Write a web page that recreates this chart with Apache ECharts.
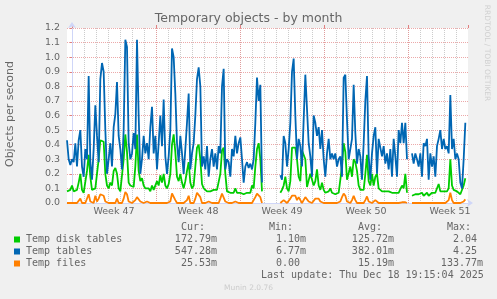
<!DOCTYPE html>
<html>
<head>
<meta charset="utf-8">
<script src="https://cdn.jsdelivr.net/npm/echarts@6/dist/echarts.min.js"></script>
<style>
html,body{margin:0;padding:0;background:#F0F0F0;}
#c{width:497px;height:299px;}
</style>
</head>
<body>
<div id="c"></div>
<script>
// ---- data ----
const weeks = ['Week 47', 'Week 48', 'Week 49', 'Week 50', 'Week 51'];
// samples every 200 minutes, first sample 600 minutes before Monday 00:00 of week 47
const startMin = -600;
const stepMin = 200;
const tempTables = [
0.43,0.30,0.26,0.30,0.28,0.41,0.25,0.43,0.50,0.25,0.18,0.37,0.30,0.87,0.28,0.16,0.37,0.67,0.46,0.28,
0.85,0.96,0.90,0.50,0.20,0.30,0.41,0.25,0.52,0.61,0.83,0.46,0.37,0.23,0.50,1.12,1.07,0.41,0.30,0.34,
0.48,0.37,1.12,0.60,0.20,0.30,0.46,0.34,0.41,0.30,0.52,0.66,0.34,0.46,0.23,0.41,0.60,0.39,0.71,0.32,
0.20,0.32,0.50,1.06,1.00,0.75,0.41,0.28,0.46,0.34,0.20,0.37,0.55,0.75,0.23,0.34,0.41,0.60,0.85,0.93,
0.80,0.25,0.32,0.23,0.39,0.18,0.30,0.37,0.25,0.34,0.23,0.39,0.34,0.80,0.92,0.23,0.30,0.28,0.18,0.37,
0.32,0.46,0.34,0.41,0.45,0.30,0.14,0.25,0.28,0.24,0.27,0.23,0.30,0.55,0.86,0.70,0.81,0.14,
null,null,null,null,null,null,null,null,null,null,
0.19,0.16,0.46,0.41,0.25,0.37,0.55,0.90,0.99,0.60,0.30,0.44,0.39,0.25,0.57,0.88,0.87,0.41,0.32,0.18,
0.60,0.55,0.46,0.52,0.37,0.50,0.30,0.18,0.34,0.44,0.30,0.34,0.30,0.34,0.25,0.30,0.32,0.18,0.86,0.88,
0.57,0.30,0.37,0.44,0.81,0.48,0.27,0.37,0.32,0.16,0.41,0.70,0.87,0.32,0.16,0.34,0.46,0.52,0.20,0.44,
0.43,0.32,0.39,0.27,0.34,0.23,0.37,0.18,0.44,0.32,0.18,0.50,0.41,0.55,0.41,0.55,0.30,
null,null,
0.34,0.27,0.34,0.30,0.25,0.34,0.18,0.41,0.39,0.44,0.16,0.34,0.25,0.32,0.18,0.39,0.44,0.50,0.37,0.44,
0.37,0.39,0.34,0.74,0.37,0.44,0.30,0.34,0.30,0.14,0.10,0.30,0.55
];
const diskTables = [
0.08,0.07,0.09,0.12,0.08,0.07,0.09,0.14,0.20,0.09,0.07,0.08,0.22,0.33,0.18,0.09,0.08,0.10,0.09,0.30,
0.43,0.43,0.42,0.20,0.12,0.10,0.14,0.12,0.22,0.24,0.20,0.10,0.08,0.09,0.30,0.47,0.35,0.14,0.12,0.13,
0.11,0.25,0.47,0.22,0.15,0.17,0.12,0.10,0.09,0.10,0.08,0.12,0.09,0.10,0.15,0.12,0.19,0.14,0.20,0.12,
0.10,0.13,0.20,0.40,0.47,0.35,0.18,0.15,0.20,0.14,0.10,0.15,0.22,0.28,0.14,0.10,0.12,0.25,0.38,0.40,
0.30,0.13,0.10,0.09,0.08,0.09,0.08,0.08,0.09,0.08,0.09,0.10,0.20,0.36,0.38,0.20,0.08,0.07,0.07,0.08,
0.07,0.10,0.07,0.07,0.07,0.07,0.06,0.07,0.07,0.06,0.07,0.12,0.10,0.25,0.37,0.41,0.30,0.08,
null,null,null,null,null,null,null,null,null,null,
0.07,0.09,0.12,0.18,0.10,0.08,0.15,0.38,0.38,0.38,0.30,0.18,0.15,0.36,0.36,0.30,0.11,0.10,0.20,0.20,
0.12,0.15,0.23,0.12,0.09,0.14,0.09,0.07,0.07,0.08,0.10,0.07,0.07,0.06,0.07,0.07,0.08,0.25,0.41,0.35,
0.16,0.15,0.25,0.18,0.30,0.28,0.22,0.12,0.09,0.08,0.09,0.20,0.33,0.15,0.12,0.20,0.12,0.18,0.20,0.10,
0.09,0.08,0.09,0.08,0.07,0.08,0.07,0.07,0.08,0.07,0.08,0.07,0.08,0.12,0.10,0.20,0.07,
null,null,
0.05,0.04,0.06,0.05,0.06,0.05,0.07,0.05,0.06,0.07,0.05,0.06,0.07,0.06,0.07,0.08,0.13,0.08,0.07,0.08,
0.07,0.08,0.10,0.30,0.12,0.09,0.10,0.08,0.07,0.06,0.05,0.12,0.17
];
const tempFiles = [
0,0,0,0,0,0,0,0,0.03,0,0,0,0,0.06,0.01,0,0,0.05,0.01,0.03,
0.06,0.06,0.05,0.01,0,0,0,0,0,0,0.03,0,0,0,0.03,0.075,0.06,0.01,0,0,
0,0.02,0.04,0.04,0.01,0,0,0,0.01,0,0,0,0,0,0,0,0,0,0,0,
0,0,0.01,0.065,0.065,0.02,0,0,0,0,0,0,0.02,0.05,0,0,0,0.03,0.07,0.07,
0.04,0,0,0,0,0.01,0.02,0,0,0,0,0,0.03,0.065,0.06,0.01,0,0,0,0,
0,0.01,0,0,0,0,0,0,0,0,0,0,0,0.04,0.065,0.065,0.04,0,
null,null,null,null,null,null,null,null,null,null,
0,0.01,0.02,0.01,0,0,0.03,0.05,0.04,0.05,0.02,0.04,0.02,0,0.01,0.04,0.04,0.01,0,0,
0,0.03,0.02,0.03,0.01,0,0,0,0,0,0,0,0,0,0,0,0.01,0.04,0.065,0.05,
0.01,0,0,0.02,0.05,0.02,0,0,0,0,0,0.02,0.045,0.01,0,0,0,0.02,0.01,0,
0,0,0,0,0,0,0,0,0,0,0,0,0,0.005,0.005,0.005,0,
null,null,
0,0,0,0,0,0,0,0,0,0,0,0,0,0,0,0,0,0,0,0,
0,0,0.02,0.07,0.02,0,0,0,0,0,0,0.01,0.025
];
const legendNames = ['Temp disk tables', 'Temp tables', 'Temp files'];
const curVals = ['172.79m', '547.28m', '25.53m'];
const minVals = ['1.10m', '6.77m', '0.00'];
const avgVals = ['125.72m', '382.01m', '15.19m'];
const maxVals = ['2.04', '4.25', '133.77m'];
const colors = ['#00CC00', '#0066B3', '#FF8000'];
const lastUpdate = 'Last update: Thu Dec 18 19:15:04 2025';

// ---- chart ----
const toPairs = arr => arr.map((v, i) => [startMin + i * stepMin, v]);
const AXIS = '#CFD6F8';
const MGRID = 'rgba(230,140,140,0.75)';
const GRID = 'rgba(170,170,170,0.6)';
const FONT = '#666666';

const chart = echarts.init(document.getElementById('c'), null, {renderer: 'canvas'});

const graphic = [];
graphic.push({type: 'text', left: 'center', top: 12.5, style: {text: 'Temporary objects - by month', font: '12.5px "DejaVu Sans"', fill: FONT}});
graphic.push({type: 'text', x: 10.5, y: 114, rotation: Math.PI / 2, style: {text: 'Objects per second', font: '11px "DejaVu Sans"', fill: FONT, align: 'center', verticalAlign: 'middle'}});
graphic.push({type: 'text', x: 487, y: 53, rotation: -Math.PI / 2, style: {text: 'RRDTOOL / TOBI OETIKER', font: '7.5px "DejaVu Sans"', fill: '#D0D0D0', align: 'center', verticalAlign: 'middle'}});
const mono = '10px "DejaVu Sans Mono"';
const headers = [['Cur:', 181], ['Min:', 269], ['Avg:', 358], ['Max:', 447]];
headers.forEach(h => graphic.push({type: 'text', x: h[1], y: 227, style: {text: h[0], font: mono, fill: FONT, align: 'left', verticalAlign: 'middle'}}));
const colEnds = [217, 306, 394, 483];
const cols = [curVals, minVals, avgVals, maxVals];
legendNames.forEach((name, r) => {
  const y = 239 + r * 12;
  graphic.push({type: 'rect', shape: {x: 14, y: y - 2.5, width: 6, height: 6}, style: {fill: colors[r]}});
  graphic.push({type: 'text', x: 26, y: y, style: {text: name, font: mono, fill: FONT, align: 'left', verticalAlign: 'middle'}});
  cols.forEach((col, c) => {
    const s = col[r];
    const txt = /[a-zA-Z]$/.test(s) ? s : s + ' ';
    graphic.push({type: 'text', x: colEnds[c], y: y, style: {text: txt, font: mono, fill: FONT, align: 'right', verticalAlign: 'middle'}});
  });
});
graphic.push({type: 'text', x: 261, y: 275, style: {text: lastUpdate, font: mono, fill: FONT, align: 'left', verticalAlign: 'middle'}});
graphic.push({type: 'text', left: 'center', top: 284, style: {text: 'Munin 2.0.76', font: '7.5px "DejaVu Sans"', fill: '#CCCCCC'}});

const option = {
  animation: false,
  backgroundColor: '#F0F0F0',
  textStyle: {fontFamily: 'DejaVu Sans'},
  grid: [
    {left: 67, right: 29, top: 28, bottom: 96, show: true, backgroundColor: '#FFFFFF', borderWidth: 0},
    {left: 72, right: 29, top: 28, bottom: 96},
    {left: 72, right: 5, top: 28, bottom: 96}
  ],
  xAxis: [
    {gridIndex: 0, type: 'value', min: -600, max: 47520,
     axisLine: {show: true, lineStyle: {color: AXIS, width: 1}, symbol: ['none', 'arrow'], symbolSize: [6, 6], symbolOffset: [0, 5]},
     axisTick: {show: false}, axisLabel: {show: false}, splitLine: {show: false}, z: 1},
    {gridIndex: 1, type: 'value', min: 0, max: 33, interval: 1,
     axisLine: {show: false}, axisTick: {show: false}, axisLabel: {show: false},
     splitLine: {show: true, showMaxLine: false, lineStyle: {color: GRID, type: [1, 1], width: 1}}},
    {gridIndex: 1, type: 'value', min: 0, max: 33, interval: 7,
     axisLine: {show: false}, axisTick: {show: true, length: 3, lineStyle: {color: '#E08080'}}, axisLabel: {show: false},
     splitLine: {show: true, showMaxLine: false, lineStyle: {color: MGRID, type: [1, 1], width: 1}}},
    {gridIndex: 2, type: 'category', data: weeks, boundaryGap: true,
     axisLine: {show: false}, axisTick: {show: false}, splitLine: {show: false},
     axisLabel: {show: true, color: FONT, fontSize: 9.5, fontFamily: 'DejaVu Sans', margin: 4}}
  ],
  yAxis: [
    {gridIndex: 0, type: 'value', min: 0, max: 1.2, interval: 0.1,
     axisLine: {show: true, lineStyle: {color: AXIS, width: 1}, symbol: ['none', 'arrow'], symbolSize: [6, 6], symbolOffset: [0, 6]},
     axisTick: {show: true, length: 2, lineStyle: {color: '#E08080'}},
     axisLabel: {color: FONT, fontSize: 9.5, fontFamily: 'DejaVu Sans', margin: 7, formatter: v => v.toFixed(1)},
     splitLine: {show: true, lineStyle: {color: MGRID, type: [1, 1], width: 1}}},
    {gridIndex: 1, type: 'value', min: 0, max: 1.2, show: false},
    {gridIndex: 2, type: 'value', min: 0, max: 1.2, show: false}
  ],
  series: [
    {name: legendNames[0], type: 'line', xAxisIndex: 0, yAxisIndex: 0, data: toPairs(diskTables), showSymbol: false, connectNulls: false, lineStyle: {color: colors[0], width: 1.8}, itemStyle: {color: colors[0]}, z: 3},
    {name: legendNames[1], type: 'line', xAxisIndex: 0, yAxisIndex: 0, data: toPairs(tempTables), showSymbol: false, connectNulls: false, lineStyle: {color: colors[1], width: 1.8}, itemStyle: {color: colors[1]}, z: 4},
    {name: legendNames[2], type: 'line', xAxisIndex: 0, yAxisIndex: 0, data: toPairs(tempFiles), showSymbol: false, connectNulls: false, lineStyle: {color: colors[2], width: 1.8}, itemStyle: {color: colors[2]}, z: 5}
  ],
  graphic: graphic
};
chart.setOption(option);
</script>
</body>
</html>
